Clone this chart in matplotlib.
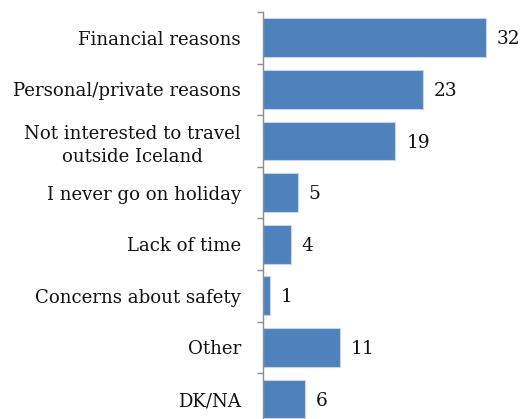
import matplotlib.pyplot as plt
import numpy as np

# reasons for not travelling abroad (%)
categories = ["Financial reasons", "Personal/private reasons",
              "Not interested to travel\noutside Iceland", "I never go on holiday",
              "Lack of time", "Concerns about safety", "Other", "DK/NA"]
values = [32, 23, 19, 5, 4, 1, 11, 6]

plt.rcParams['font.family'] = ['DejaVu Serif']

fig = plt.figure(figsize=(5.21, 4.19), dpi=100)
# axes: x=0 at 263px, top at 12px, 8 rows of ~51.6px (bottom is cut off)
left = 263 / 521
top = 1 - 12 / 419
height = 8 * 51.6 / 419
ax = fig.add_axes([left, top - height, 1 - left, height])

y = np.arange(len(categories))
ax.barh(y, values, height=0.75, color='#4F81BD', edgecolor='#C6D5EA', linewidth=0.8)
ax.set_ylim(len(categories) - 0.5, -0.5)
ax.set_xlim(0, (521 - 263) / 6.97)

for yi, v in zip(y, values):
    ax.text(v + 1.55, yi + 0.03, str(v), va='center', ha='left', fontsize=13.3, color='#111111')

ax.set_yticks(y)
ax.set_yticklabels(categories, fontsize=13.1, color='#111111')
for lab in ax.get_yticklabels():
    lab.set_multialignment('center')
    lab.set_linespacing(1.35)
ax.tick_params(axis='y', which='major', length=0, pad=16)
ax.set_yticks(np.arange(-0.5, len(categories), 1), minor=True)
ax.tick_params(axis='y', which='minor', length=4, color='#8C8C8C', width=1)
ax.set_xticks([])

for s in ['top', 'right', 'bottom']:
    ax.spines[s].set_visible(False)
ax.spines['left'].set_color('#8C8C8C')
ax.spines['left'].set_linewidth(1)

fig.savefig('out.png', dpi=100)
